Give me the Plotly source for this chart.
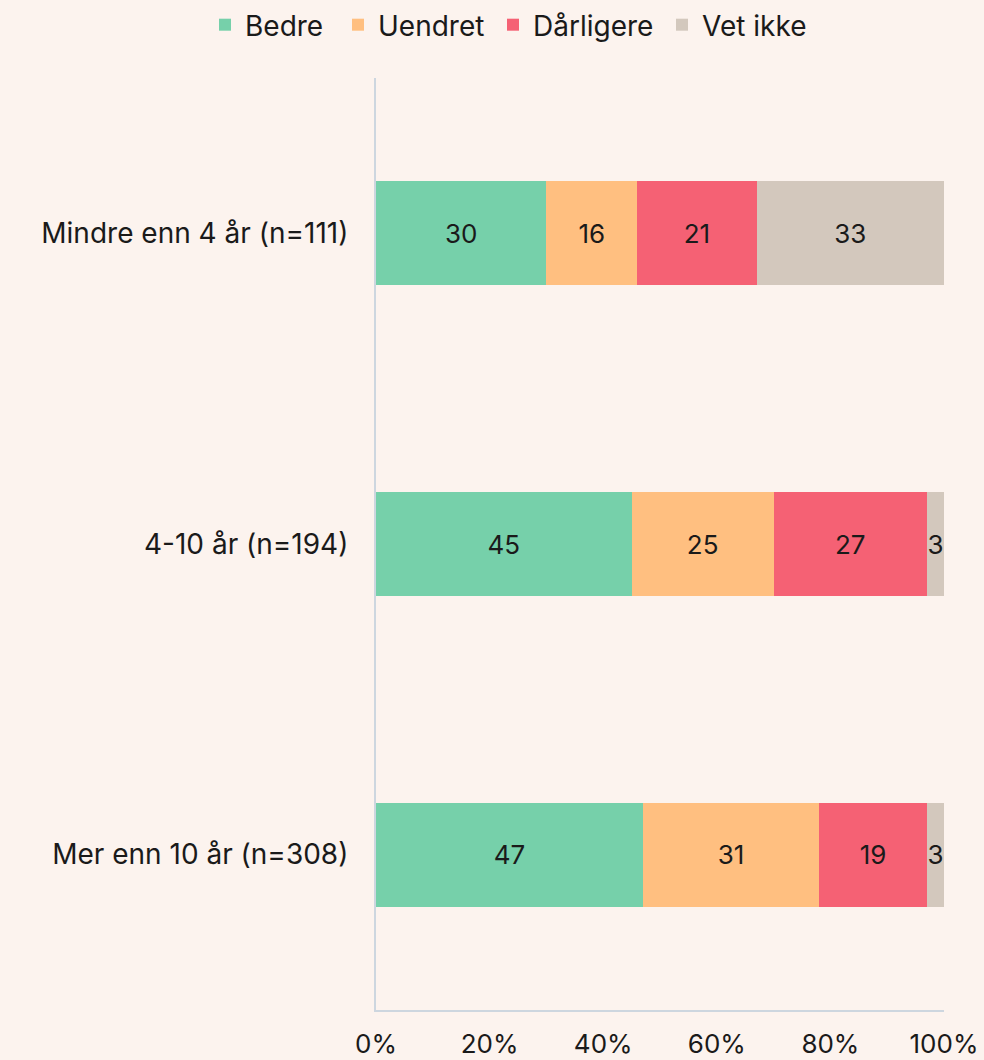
import plotly.graph_objects as go

categories = ["Mindre enn 4 år (n=111)", "4-10 år (n=194)", "Mer enn 10 år (n=308)"]
series_names = ["Bedre", "Uendret", "Dårligere", "Vet ikke"]
bedre = [30, 45, 47]
uendret = [16, 25, 31]
darligere = [21, 27, 19]
vet_ikke = [33, 3, 3]
tick_vals = [0, 20, 40, 60, 80, 100]
tick_text = ["0%", "20%", "40%", "60%", "80%", "100%"]

colors = ["#76D0AA", "#FFBF80", "#F56174", "#D3C8BD"]
values = [bedre, uendret, darligere, vet_ikke]
legend_x = [205, 338, 493, 662]  # left edge of each legend entry, px
FONT = "Inter, Lato, sans-serif"
INK = "#1a1a1a"
W, H = 984, 1060

fig = go.Figure()
legend_ids = ["legend", "legend2", "legend3", "legend4"]
for name, vals, c, lid in zip(series_names, values, colors, legend_ids):
    fig.add_trace(go.Bar(
        y=categories, x=vals, name=name, orientation="h",
        marker=dict(color=c, line=dict(width=0)),
        text=[str(v) for v in vals], textposition="inside",
        insidetextanchor="middle",
        textfont=dict(family=FONT, size=26, color=INK),
        width=0.335, cliponaxis=False, legend=lid,
    ))

legend_layout = {}
for lid, lx in zip(legend_ids, legend_x):
    legend_layout[lid] = dict(
        orientation="h", x=lx / W, xanchor="left", xref="container",
        y=1.0, yanchor="top", yref="container", bgcolor="rgba(0,0,0,0)",
        font=dict(family=FONT, size=28, color=INK), itemwidth=30,
    )

fig.update_layout(
    barmode="stack",
    width=W, height=H,
    paper_bgcolor="#FCF3EE", plot_bgcolor="#FCF3EE",
    margin=dict(l=376, r=40, t=78, b=50, autoexpand=False),
    font=dict(family=FONT, color=INK),
    uniformtext=dict(minsize=26, mode="show"),
    showlegend=True,
    xaxis=dict(range=[0, 100], tickvals=tick_vals, ticktext=tick_text,
               showgrid=False, zeroline=False, showline=True,
               linecolor="#CDD6DF", linewidth=2, ticks="", automargin=False,
               tickfont=dict(family=FONT, size=26, color=INK),
               ticklabelstandoff=10),
    yaxis=dict(range=[2.5, -0.5], showgrid=False, automargin=False,
               zeroline=False, showline=True, linecolor="#CDD6DF", linewidth=2,
               ticks="", tickfont=dict(family=FONT, size=28, color=INK),
               ticklabelstandoff=20),
    **legend_layout,
)

fig.write_html(
    "out.html",
    config={"displayModeBar": False},
    post_script="document.body.style.margin='0';document.body.style.background='#FCF3EE';",
)
